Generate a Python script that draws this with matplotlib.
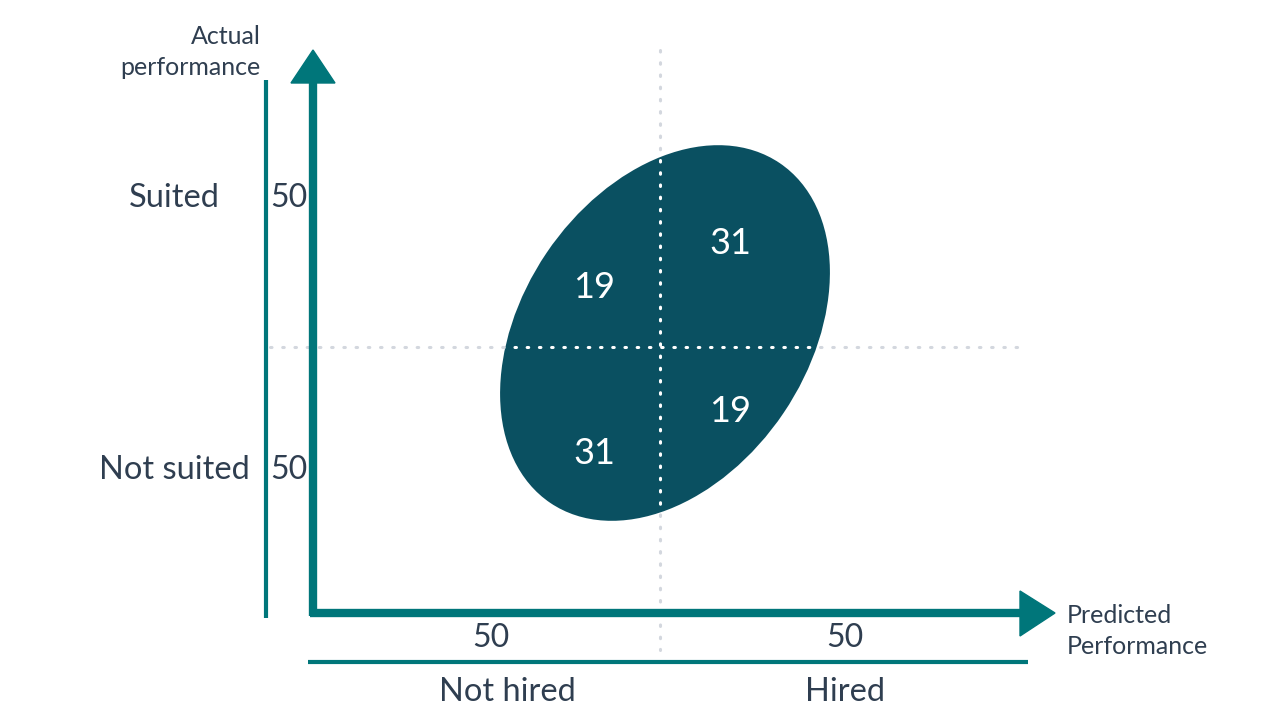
import numpy as np
import matplotlib.pyplot as plt
from matplotlib.patches import Ellipse, Polygon

# quadrant counts: (label x, label y) placed inside the ellipse
quad_counts = [19, 31, 31, 19]        # top-left, top-right, bottom-left, bottom-right
row_labels = ["Suited", "Not suited"]
row_totals = [50, 50]
col_labels = ["Not hired", "Hired"]
col_totals = [50, 50]
x_title = "Predicted\nPerformance"
y_title = "Actual\nperformance"

teal = "#00767A"
blob = "#0A5061"
ink = "#2F3E50"
dots = "#D3D7DE"
plt.rcParams['font.family'] = ['Lato', 'DejaVu Sans']

fig = plt.figure(figsize=(12.8, 7.2), dpi=100)
ax = fig.add_axes([0, 0, 1, 1])
ax.set_xlim(0, 1280)
ax.set_ylim(720, 0)
ax.axis("off")

# dotted quadrant dividers (grey outside, white over the ellipse)
div_x, div_y = 660, 347
ax.plot([div_x, div_x], [50, 650], color=dots, lw=2.2, ls=(0, (0.5, 3.5)), dash_capstyle="round", zorder=1)
ax.plot([270, 1025], [div_y, div_y], color=dots, lw=2.2, ls=(0, (0.5, 3.5)), dash_capstyle="round", zorder=1)

ell = Ellipse((665, 333), 410, 286, angle=-56, facecolor=blob, edgecolor="none", zorder=2)
ax.add_patch(ell)
for xs, ys in [([div_x, div_x], [50, 650]), ([270, 1025], [div_y, div_y])]:
    ln, = ax.plot(xs, ys, color="white", lw=2.2, ls=(0, (0.5, 3.5)), dash_capstyle="round", zorder=3)
    ln.set_clip_path(ell)

# counts inside the quadrants
quad_pos = [(594, 288), (730, 244), (594, 453), (730, 411)]
for (qx, qy), n in zip(quad_pos, quad_counts):
    ax.text(qx, qy, str(n), color="white", fontsize=26, ha="center", va="center", zorder=4)

# axes arrows
ax.plot([313, 313], [616, 80], color=teal, lw=6, solid_capstyle="butt", zorder=3)
ax.add_patch(Polygon([[291, 83], [335, 83], [313, 50]], closed=True, color=teal, zorder=3))
ax.plot([310, 1022], [613, 613], color=teal, lw=6, solid_capstyle="butt", zorder=3)
ax.add_patch(Polygon([[1020, 591], [1020, 636], [1055, 613]], closed=True, color=teal, zorder=3))

# bracket lines
ax.plot([266, 266], [80, 618], color=teal, lw=3, solid_capstyle="butt")
ax.plot([308, 1028], [662, 662], color=teal, lw=3, solid_capstyle="butt")

# row labels
for ry, lab, tot in zip([198, 470], row_labels, row_totals):
    ax.text(174, ry, lab, color=ink, fontsize=23.5, ha="center", va="center")
    ax.text(289, ry, str(tot), color=ink, fontsize=23, ha="center", va="center")

# column labels
for cx, lab, tot in zip([491, 845], col_labels, col_totals):
    ax.text(cx, 638, str(tot), color=ink, fontsize=23, ha="center", va="center")
    ax.text(cx + (16 if lab == "Not hired" else 0), 692, lab, color=ink, fontsize=23.5, ha="center", va="center")

ax.text(261, 52, y_title, color=ink, fontsize=18, ha="right", va="center", linespacing=1.45)
ax.text(1067, 631, x_title, color=ink, fontsize=18, ha="left", va="center", linespacing=1.45)

fig.savefig("out.png", dpi=100, facecolor="white")
